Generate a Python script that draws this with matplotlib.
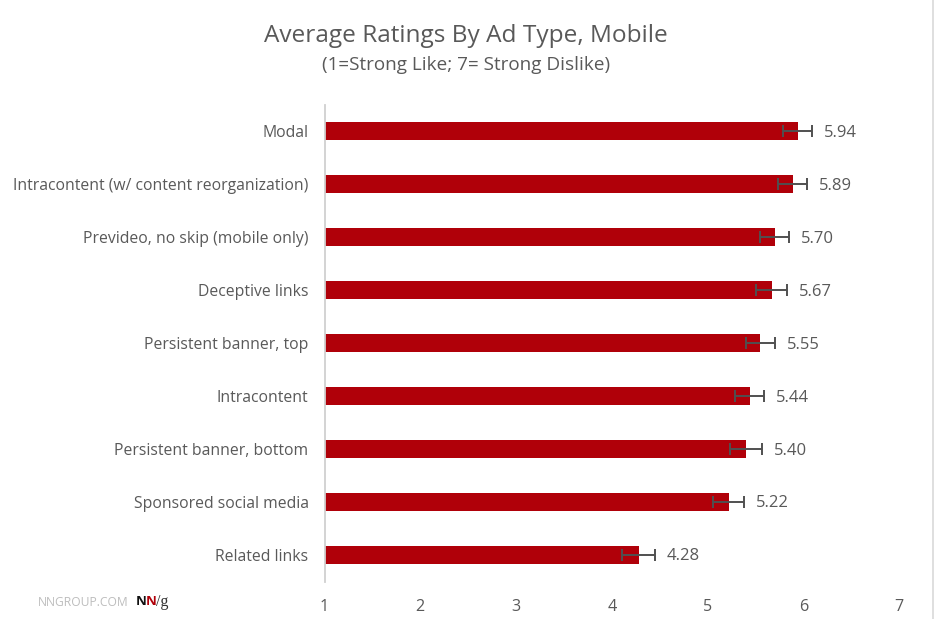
import matplotlib
matplotlib.use("Agg")
import matplotlib.pyplot as plt

categories = ["Modal", "Intracontent (w/ content reorganization)", "Prevideo, no skip (mobile only)",
              "Deceptive links", "Persistent banner, top", "Intracontent",
              "Persistent banner, bottom", "Sponsored social media", "Related links"]
values = [5.94, 5.89, 5.70, 5.67, 5.55, 5.44, 5.40, 5.22, 4.28]
errors = [0.15, 0.15, 0.15, 0.16, 0.15, 0.15, 0.17, 0.16, 0.17]
x_ticks = [1, 2, 3, 4, 5, 6, 7]

W, H = 934, 619
plt.rcParams['font.family'] = ['Open Sans', 'DejaVu Sans']
fig = plt.figure(figsize=(W / 100, H / 100), dpi=100)
ax = fig.add_axes([324.5 / W, 1 - 581.5 / H, 574.5 / W, 476.5 / H])
grey = '#595959'
pos = list(range(len(categories)))
ax.barh(pos, [v - 1 for v in values], left=1, height=0.34, color='#B00009', zorder=2)
ax.errorbar(values, pos, xerr=errors, fmt='none', ecolor='#505050', elinewidth=1.4,
            capsize=4.5, capthick=1.4, zorder=3)
for p, v, e in zip(pos, values, errors):
    ax.annotate(f"{v:.2f}", (v + e, p), xytext=(8.7, -1), textcoords='offset points',
                va='center', ha='left', fontsize=12, color=grey)
ax.set_xlim(1, 7)
ax.set_ylim(len(categories) - 0.5, -0.5)
ax.set_yticks(pos, categories)
ax.set_xticks(x_ticks)
ax.tick_params(axis='y', length=0, pad=11.5, labelsize=11.3, labelcolor=grey)
ax.tick_params(axis='x', length=0, pad=12.5, labelsize=11.6, labelcolor=grey)
for s in ['top', 'right', 'bottom']:
    ax.spines[s].set_visible(False)
ax.spines['left'].set_color('#D0D0D0')
ax.spines['left'].set_linewidth(1.3)

fig.text(466 / W, 1 - 35.5 / H, "Average Ratings By Ad Type, Mobile", ha='center', va='center',
         fontsize=17.6, color=grey)
fig.text(466 / W, 1 - 64.5 / H, "(1=Strong Like; 7= Strong Dislike)", ha='center', va='center',
         fontsize=13.6, color=grey)
fig.text(38 / W, 1 - 603 / H, "NNGROUP.COM", ha='left', va='center', fontsize=8.7, color='#BDBDBD')
fig.text(135.5 / W, 1 - 601.5 / H, "N", ha='left', va='center', fontsize=9.5, fontweight='bold', color='#111111')
fig.text(145.5 / W, 1 - 601.5 / H, "N", ha='left', va='center', fontsize=9.5, fontweight='bold', color='#B00009')
fig.text(156 / W, 1 - 602 / H, "/g", ha='left', va='center', fontsize=11.5, color='#333333',
         family='Liberation Serif')
fig.add_artist(plt.Line2D([932.5 / W] * 2, [0, 1], color='#D9D9D9', lw=1.2))
fig.savefig("out.png", dpi=100)
